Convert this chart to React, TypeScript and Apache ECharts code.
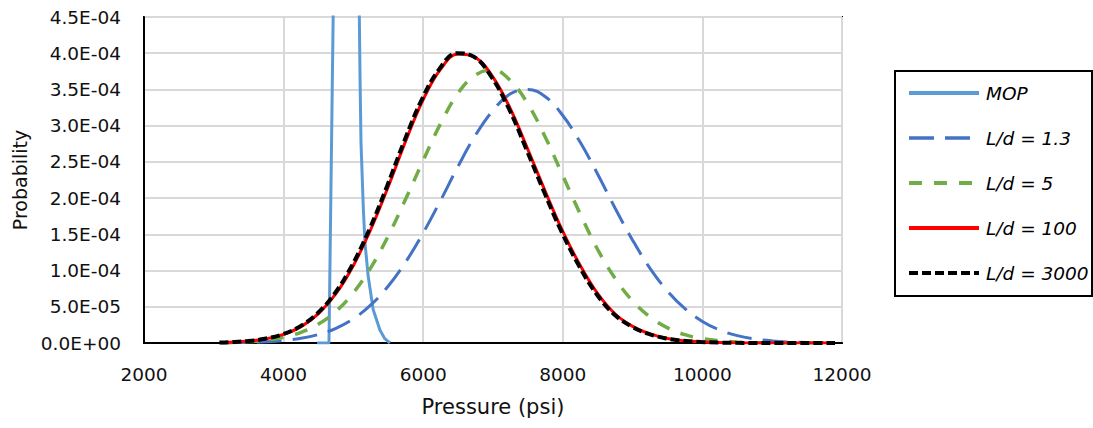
import React, { useEffect, useRef } from "react";
import * as echarts from "echarts";

const seriesNames = ["MOP", "L/d = 1.3", "L/d = 5", "L/d = 100", "L/d = 3000"];
const xTicks = { min: 2000, max: 12000, interval: 2000 };
const yTicks = { min: 0, max: 4.5e-4, interval: 5e-5 };

const pressure = [
  3100, 3250, 3500, 3750, 4000, 4250, 4500, 4750, 5000, 5250, 5500, 5750,
  6000, 6250, 6500, 6750, 7000, 7250, 7500, 7750, 8000, 8250, 8500, 8750,
  9000, 9250, 9500, 9750, 10000, 10250, 10500, 10750, 11000, 11250, 11500, 11900,
];
const pressure3000 = [
  3080, 3230, 3480, 3730, 3980, 4230, 4480, 4730, 4980, 5230, 5480, 5730,
  5980, 6230, 6480, 6730, 6980, 7230, 7480, 7730, 7980, 8230, 8480, 8730,
  8980, 9230, 9480, 9730, 9980, 10230, 10480, 10730, 10980, 11230, 11480, 11900,
];

const ld13 = [
  2.3e-7, 3.7e-7, 8.2e-7, 1.7e-6, 3.4e-6, 6.5e-6, 1.18e-5, 2.03e-5, 3.35e-5, 5.26e-5, 7.86e-5, 1.12e-4,
  1.52e-4, 1.97e-4, 2.44e-4, 2.87e-4, 3.21e-4, 3.44e-4, 3.5e-4, 3.4e-4, 3.14e-4, 2.77e-4, 2.33e-4, 1.86e-4,
  1.42e-4, 1.03e-4, 7.17e-5, 4.74e-5, 2.98e-5, 1.79e-5, 1.02e-5, 5.6e-6, 2.9e-6, 1.4e-6, 6.8e-7, 1.8e-7,
];
const ld5 = [
  5e-7, 8.5e-7, 1.9e-6, 4.0e-6, 7.8e-6, 1.47e-5, 2.61e-5, 4.37e-5, 6.94e-5, 1.04e-4, 1.48e-4, 1.99e-4,
  2.52e-4, 3.03e-4, 3.45e-4, 3.7e-4, 3.77e-4, 3.62e-4, 3.3e-4, 2.84e-4, 2.31e-4, 1.78e-4, 1.29e-4, 8.9e-5,
  5.8e-5, 3.58e-5, 2.09e-5, 1.15e-5, 6.0e-6, 3.0e-6, 1.4e-6, 6e-7, 2.5e-7, 1e-7, 0, 0,
];
const ld100 = [
  6.5e-7, 1.1e-6, 2.6e-6, 5.8e-6, 1.18e-5, 2.26e-5, 4.06e-5, 6.8e-5, 1.07e-4, 1.57e-4, 2.16e-4, 2.79e-4,
  3.36e-4, 3.78e-4, 3.99e-4, 3.94e-4, 3.67e-4, 3.23e-4, 2.67e-4, 2.09e-4, 1.54e-4, 1.07e-4, 6.8e-5, 4.0e-5,
  2.3e-5, 1.25e-5, 6.3e-6, 3.0e-6, 1.4e-6, 6e-7, 2.5e-7, 1e-7, 0, 0, 0, 0,
];
const ld3000 = [
  6.5e-7, 1.1e-6, 2.6e-6, 5.8e-6, 1.18e-5, 2.26e-5, 4.06e-5, 6.8e-5, 1.07e-4, 1.57e-4, 2.16e-4, 2.79e-4,
  3.36e-4, 3.78e-4, 4.0e-4, 3.95e-4, 3.67e-4, 3.23e-4, 2.67e-4, 2.09e-4, 1.54e-4, 1.07e-4, 6.8e-5, 4.0e-5,
  2.3e-5, 1.25e-5, 6.3e-6, 3.0e-6, 1.4e-6, 6e-7, 2.5e-7, 1e-7, 0, 0, 0, 0,
];

const mopPressure = [
  4480, 4650, 4710, 4800, 4900, 5000, 5060, 5085, 5095, 5109, 5143, 5166, 5212, 5284, 5380, 5450, 5524,
];
const mopValue = [
  0, 0, 4.5e-4, 2.0e-3, 2.6e-3, 1.6e-3, 6.5e-4, 4.5e-4, 3.67e-4, 2.76e-4, 1.84e-4, 1.38e-4, 9.2e-5,
  4.6e-5, 1.8e-5, 6e-6, 0,
];

const FONT = "DejaVu Sans";

const seriesStyles = [
  { color: "#5B9BD5", width: 3, dash: null as number[] | null, legendWidth: 4 },
  { color: "#4472C4", width: 3, dash: [25, 11], legendWidth: 3.5 },
  { color: "#70AD47", width: 3.5, dash: [13, 12], legendWidth: 4 },
  { color: "#FF0000", width: 3, dash: null, legendWidth: 4 },
  { color: "#000000", width: 4, dash: [9, 4], legendWidth: 4 },
];

const zip = (xs: number[], ys: number[]) => xs.map((x, i) => [x, ys[i]]);

const fmtExp = (v: number) => {
  const [m, e] = v.toExponential(1).split("e");
  const n = parseInt(e, 10);
  return `${m}E${n < 0 ? "-" : "+"}${String(Math.abs(n)).padStart(2, "0")}`;
};

export default function App() {
  const ref = useRef<HTMLDivElement>(null);
  useEffect(() => {
    if (!ref.current) return;
    const chart = echarts.init(ref.current, null, { renderer: "svg" });
    const lineBase = { type: "line", symbol: "none", showSymbol: false, animation: false };
    const seriesData = [
      { data: zip(mopPressure, mopValue), smooth: false },
      { data: zip(pressure, ld13), smooth: 0.4 },
      { data: zip(pressure, ld5), smooth: 0.4 },
      { data: zip(pressure, ld100), smooth: 0.4 },
      { data: zip(pressure3000, ld3000), smooth: 0.4 },
    ];
    const legendGraphics: any[] = [
      {
        type: "rect",
        shape: { x: 895, y: 71, width: 197, height: 225 },
        style: { fill: "none", stroke: "#000", lineWidth: 2 },
      },
    ];
    seriesNames.forEach((name, i) => {
      const y = 93 + 45 * i;
      const s = seriesStyles[i];
      legendGraphics.push({
        type: "line",
        shape: { x1: 909, y1: y, x2: 979, y2: y },
        style: { stroke: s.color, lineWidth: s.legendWidth, lineDash: s.dash || undefined },
      });
      legendGraphics.push({
        type: "text",
        x: 986,
        y,
        style: {
          text: name,
          fontFamily: FONT,
          fontSize: 18.5,
          fontStyle: "italic",
          fill: "#000",
          verticalAlign: "middle",
          align: "left",
        },
      });
    });
    chart.setOption({
      animation: false,
      backgroundColor: "#fff",
      grid: {
        left: 144,
        top: 17,
        right: 251,
        bottom: 85,
        show: true,
        borderColor: "#000",
        borderWidth: 2,
        backgroundColor: "transparent",
      },
      xAxis: {
        type: "value",
        min: xTicks.min,
        max: xTicks.max,
        interval: xTicks.interval,
        name: "Pressure (psi)",
        nameLocation: "middle",
        nameGap: 53,
        nameTextStyle: { fontFamily: FONT, fontSize: 21, color: "#111" },
        axisLine: { show: true, lineStyle: { color: "#000", width: 2 } },
        axisTick: { show: false },
        axisLabel: {
          fontFamily: FONT,
          fontSize: 18.5,
          color: "#111",
          margin: 22,
          formatter: (v: number) => String(v),
        },
        splitLine: { show: true, lineStyle: { color: "#d9d9d9", width: 2 } },
      },
      yAxis: {
        type: "value",
        min: yTicks.min,
        max: yTicks.max,
        interval: yTicks.interval,
        name: "Probability",
        nameLocation: "middle",
        nameRotate: 90,
        nameGap: 114,
        nameTextStyle: { fontFamily: FONT, fontSize: 19, color: "#111" },
        axisLine: { show: true, lineStyle: { color: "#000", width: 2 } },
        axisTick: { show: false },
        axisLabel: { fontFamily: FONT, fontSize: 18.5, color: "#111", margin: 23, formatter: fmtExp },
        splitLine: { show: true, lineStyle: { color: "#d9d9d9", width: 2 } },
      },
      graphic: legendGraphics,
      series: seriesNames.map((name, i) => ({
        ...lineBase,
        name,
        smooth: seriesData[i].smooth,
        data: seriesData[i].data,
        lineStyle: {
          color: seriesStyles[i].color,
          width: seriesStyles[i].width,
          type: seriesStyles[i].dash || "solid",
        },
        itemStyle: { color: seriesStyles[i].color },
      })),
    });
    return () => chart.dispose();
  }, []);
  return (
    <div
      ref={ref}
      style={{ position: "fixed", left: 0, top: 0, width: 1093, height: 428, background: "#fff" }}
    />
  );
}
